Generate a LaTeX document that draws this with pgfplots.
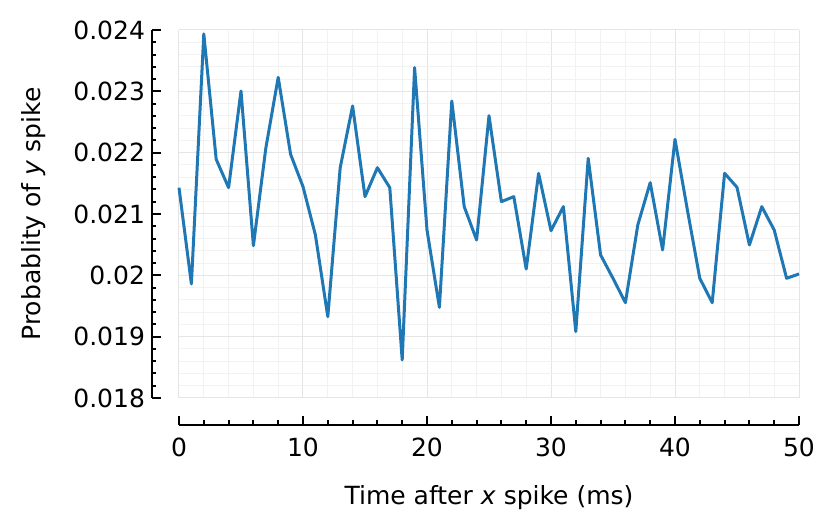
\documentclass[border=0pt]{standalone}
\usepackage{pgfplots}
\pgfplotsset{compat=1.18}
\usepackage{fontspec}
\setmainfont{DejaVu Sans}
\definecolor{mplblue}{HTML}{1F77B4}
\begin{document}
\begin{tikzpicture}
\begin{axis}[
  name=main,
  scale only axis,
  width=310pt, height=184pt,
  xmin=0, xmax=50, ymin=0.018, ymax=0.024,
  axis lines=left,
  axis line style={-, line width=1pt, black},
  axis x line shift=13.5pt,
  axis y line shift=13.5pt,
  xtick={0,10,...,50},
  ytick={0.018,0.019,0.020,0.021,0.022,0.023,0.024},
  yticklabels={0.018,0.019,0.02,0.021,0.022,0.023,0.024},
  scaled y ticks=false,
  minor x tick num=4,
  minor y tick num=4,
  tick align=inside,
  major tick length=4.5pt,
  minor tick length=2.25pt,
  every tick/.style={black, line width=1pt},
  grid=both,
  major grid style={color=black!10, line width=0.5pt},
  minor grid style={color=black!5, line width=0.5pt},
  /pgf/number format/assume math mode=true,
  tick label style={font=\fontsize{12.5}{15}\selectfont},
  xticklabel style={yshift=-3pt},
  label style={font=\fontsize{12.5}{15}\selectfont},
  xlabel={Time after \textit{x} spike (ms)},
  ylabel={Probablity of \textit{y} spike},
  xlabel style={yshift=-7.5pt},
  ylabel style={yshift=7pt},
  clip=false,
]
\addplot[mplblue, line width=1.5pt, line join=round] coordinates {
(0,0.021429) (1,0.019859) (2,0.023935) (3,0.021891) (4,0.021429)
(5,0.023005) (6,0.020484) (7,0.022071) (8,0.023228) (9,0.021973)
(10,0.021446) (11,0.020658) (12,0.019326) (13,0.021755) (14,0.022761)
(15,0.021283) (16,0.021755) (17,0.021429) (18,0.018620) (19,0.023386)
(20,0.020739) (21,0.019478) (22,0.022842) (23,0.021120) (24,0.020576)
(25,0.022603) (26,0.021201) (27,0.021283) (28,0.020103) (29,0.021663)
(30,0.020728) (31,0.021120) (32,0.019082) (33,0.021908) (34,0.020332)
(35,0.019951) (36,0.019554) (37,0.020821) (38,0.021511) (39,0.020413)
(40,0.022217) (41,0.021065) (42,0.019951) (43,0.019554) (44,0.021663)
(45,0.021435) (46,0.020495) (47,0.021120) (48,0.020739) (49,0.019951)
(50,0.020022)
};
\end{axis}
\path ([shift={(-89.5pt,-66pt)}]main.south west) ([shift={(18pt,15pt)}]main.north east);
\end{tikzpicture}
\end{document}
